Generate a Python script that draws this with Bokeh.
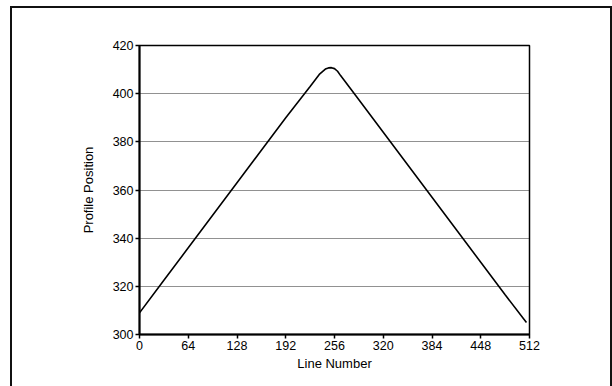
from bokeh.plotting import figure
from bokeh.models import Range1d, FixedTicker
from bokeh.embed import file_html
from bokeh.resources import INLINE

line_number = [0, 32, 64, 96, 128, 160, 192, 224, 236, 244, 248, 252, 256, 260, 264,
               288, 320, 352, 384, 416, 448, 480, 508]
profile_position = [309, 322.5, 336, 349.5, 363, 376.5, 390, 403, 408, 410.2,
                    410.7, 410.8, 410.4, 409.3, 407.5, 397.5, 384, 370.5, 357,
                    343.5, 330, 316.5, 305]
x_ticks = [0, 64, 128, 192, 256, 320, 384, 448, 512]
y_ticks = [300, 320, 340, 360, 380, 400, 420]

FONT = "Liberation Sans"

p = figure(width=602, height=382, output_backend="svg", toolbar_location=None,
           x_range=Range1d(0, 512), y_range=Range1d(300, 420),
           min_border_left=127, min_border_right=85,
           min_border_top=37, min_border_bottom=56)
p.styles = {"border": "2px solid #111", "box-sizing": "border-box",
            "margin-left": "10px", "margin-top": "6px"}

p.line(line_number, profile_position, line_color="black", line_width=1.6)

p.outline_line_color = "black"
p.outline_line_width = 1.5

p.xgrid.grid_line_color = None
p.ygrid.grid_line_color = "#222222"
p.ygrid.grid_line_dash = "1 1"
p.ygrid.grid_line_width = 1.2

p.xaxis.ticker = FixedTicker(ticks=x_ticks)
p.yaxis.ticker = FixedTicker(ticks=y_ticks)
for ax in (p.xaxis[0], p.yaxis[0]):
    ax.axis_line_color = "black"
    ax.axis_line_width = 2
    ax.major_tick_line_color = "black"
    ax.major_tick_line_width = 1.5
    ax.major_tick_out = 4
    ax.major_tick_in = 0
    ax.minor_tick_line_color = None
    ax.major_label_text_font = FONT
    ax.major_label_text_font_size = "12.5px"
    ax.major_label_text_color = "black"
    ax.axis_label_text_font = FONT
    ax.axis_label_text_font_size = "13px"
    ax.axis_label_text_font_style = "normal"
    ax.axis_label_text_color = "black"

p.xaxis.axis_label = "Line Number"
p.yaxis.axis_label = "Profile Position"
p.xaxis.major_label_standoff = 2
p.xaxis.axis_label_standoff = 3
p.yaxis.major_label_standoff = 2
p.yaxis.axis_label_standoff = 14

open("out.html", "w").write(file_html(p, INLINE))
